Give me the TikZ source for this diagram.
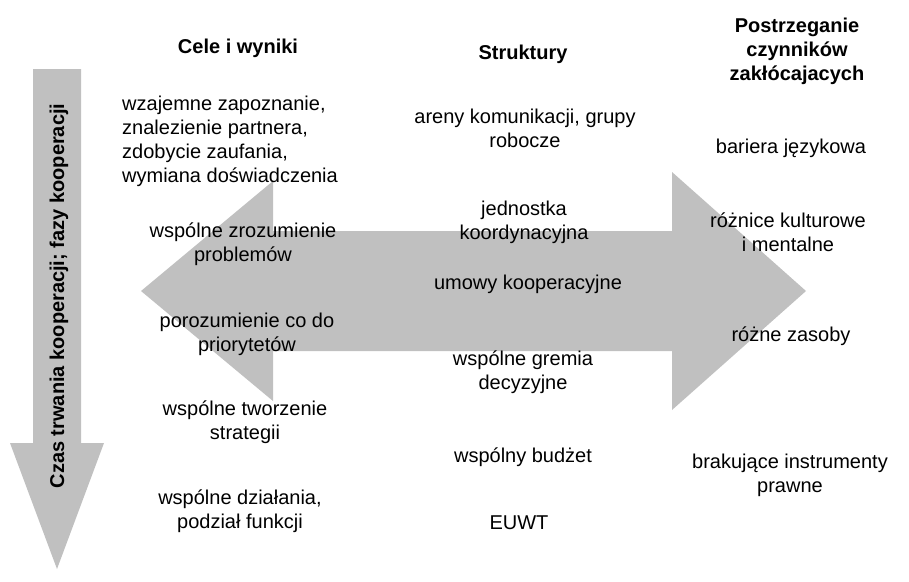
\documentclass[tikz,border=0pt]{standalone}
\usepackage{fontspec}
\setmainfont{Liberation Sans}
\usepackage{xcolor}
\usetikzlibrary{positioning}
\definecolor{cGray}{RGB}{192,192,192}
\tikzset{
	item/.style     ={align=center, inner sep=0pt, font=\fontsize{20}{24}\selectfont},
	colhead/.style  ={align=center, inner sep=0pt, font=\fontsize{20}{24}\selectfont\bfseries},
	grayarrow/.style={fill=cGray, draw=none},
}

\begin{document}
\begin{tikzpicture}[x=1pt, y=-1pt]
	\useasboundingbox (0,0) rectangle (909,581);
	% time arrow
	\fill[grayarrow] (33,69) -- (81,69) -- (81,443) -- (104,443) -- (57,569) -- (10,443) -- (33,443) -- cycle;
	\node[colhead, rotate=90] (czas) at (59,296) {Czas trwania kooperacji; fazy kooperacji};
	% double arrow
	\fill[grayarrow] (141,291) -- (273,181) -- (273,231) -- (672,231) -- (672,172) -- (806,291)
		-- (672,410) -- (672,351) -- (273,351) -- (273,401) -- cycle;
	% column heads
	\node[colhead] (cele) at (238,48) {Cele i wyniki};
	\node[colhead] (struktury) at (523,54) {Struktury};
	\node[colhead] (postrz) at (797,51) {Postrzeganie\\czynników\\zakłócajacych};
	% goals and results
	\node[item, align=left, anchor=west] (cel1) at (122,141) {wzajemne zapoznanie,\\znalezienie partnera,\\zdobycie zaufania,\\wymiana doświadczenia};
	\node[item] (cel2) at (243,244) {wspólne zrozumienie\\problemów};
	\node[item] (cel3) at (247,334) {porozumienie co do\\priorytetów};
	\node[item] (cel4) at (245,422) {wspólne tworzenie\\strategii};
	\node[item] (cel5) at (240,511) {wspólne działania,\\podział funkcji};
	% structures
	\node[item] (str1) at (525,128) {areny komunikacji, grupy\\robocze};
	\node[item] (str2) at (524,222) {jednostka\\koordynacyjna};
	\node[item] (str3) at (528,284) {umowy kooperacyjne};
	\node[item] (str4) at (523,372) {wspólne gremia\\decyzyjne};
	\node[item] (str5) at (523,457) {wspólny budżet};
	\node[item] (str6) at (519,523) {EUWT};
	% perceived obstacles
	\node[item] (bar1) at (791,148) {bariera językowa};
	\node[item] (bar2) at (788,232) {różnice kulturowe\\i mentalne};
	\node[item] (bar3) at (791,336) {różne zasoby};
	\node[item] (bar4) at (790,475) {brakujące instrumenty\\prawne};
\end{tikzpicture}
\end{document}
